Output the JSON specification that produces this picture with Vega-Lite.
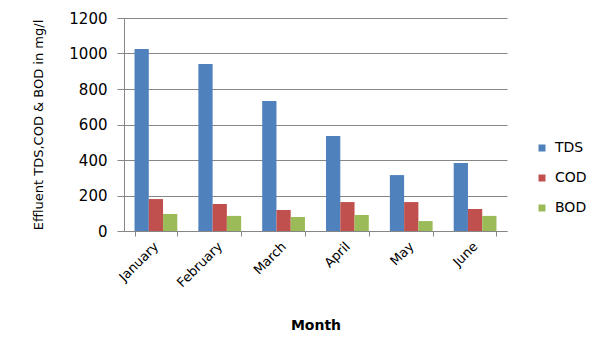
{
  "$schema": "https://vega.github.io/schema/vega-lite/v6.json",
  "width": 383,
  "height": 213,
  "autosize": "none",
  "padding": {"left": 124, "top": 18, "right": 102, "bottom": 121},
  "background": "white",
  "data": {
    "values": [
      {"month": "January", "param": "TDS", "value": 1025},
      {"month": "January", "param": "COD", "value": 180},
      {"month": "January", "param": "BOD", "value": 96},
      {"month": "February", "param": "TDS", "value": 941},
      {"month": "February", "param": "COD", "value": 152},
      {"month": "February", "param": "BOD", "value": 85},
      {"month": "March", "param": "TDS", "value": 732},
      {"month": "March", "param": "COD", "value": 118},
      {"month": "March", "param": "BOD", "value": 79},
      {"month": "April", "param": "TDS", "value": 535},
      {"month": "April", "param": "COD", "value": 163},
      {"month": "April", "param": "BOD", "value": 90},
      {"month": "May", "param": "TDS", "value": 315},
      {"month": "May", "param": "COD", "value": 163},
      {"month": "May", "param": "BOD", "value": 56},
      {"month": "June", "param": "TDS", "value": 383},
      {"month": "June", "param": "COD", "value": 124},
      {"month": "June", "param": "BOD", "value": 85}
    ]
  },
  "mark": {"type": "bar"},
  "encoding": {
    "x": {
      "field": "month",
      "type": "nominal",
      "sort": ["January", "February", "March", "April", "May", "June"],
      "scale": {"paddingInner": 0.33, "paddingOuter": 0.165},
      "axis": {
        "title": "Month",
        "titleFont": "DejaVu Sans",
        "titleFontSize": 14,
        "titleFontWeight": "bold",
        "titleColor": "black",
        "titlePadding": 29,
        "labelAngle": -45,
        "labelAlign": "right",
        "labelBaseline": "middle",
        "labelFont": "DejaVu Sans",
        "labelFontSize": 13,
        "labelColor": "black",
        "labelPadding": 8,
        "tickBand": "extent",
        "tickSize": 5,
        "tickColor": "#868686",
        "domainColor": "#868686",
        "grid": false
      }
    },
    "xOffset": {
      "field": "param",
      "type": "nominal",
      "sort": ["TDS", "COD", "BOD"],
      "scale": {"paddingInner": 0, "paddingOuter": 0}
    },
    "y": {
      "field": "value",
      "type": "quantitative",
      "scale": {"domain": [0, 1200]},
      "axis": {
        "title": "Effluent TDS,COD & BOD in mg/l",
        "titleFont": "DejaVu Sans",
        "titleFontSize": 13,
        "titleFontWeight": "normal",
        "titleColor": "black",
        "titlePadding": 23,
        "values": [0, 200, 400, 600, 800, 1000, 1200],
        "format": "d",
        "labelFont": "DejaVu Sans",
        "labelFontSize": 15,
        "labelColor": "black",
        "labelPadding": 10,
        "tickSize": 7,
        "tickColor": "#868686",
        "domainColor": "#868686",
        "gridColor": "#868686",
        "gridWidth": 1
      }
    },
    "color": {
      "field": "param",
      "type": "nominal",
      "sort": ["TDS", "COD", "BOD"],
      "scale": {"domain": ["TDS", "COD", "BOD"], "range": ["#4F81BD", "#C0504D", "#9BBB59"]},
      "legend": {
        "title": null,
        "orient": "none",
        "legendX": 411,
        "legendY": 123,
        "symbolType": "square",
        "symbolSize": 49,
        "symbolStrokeWidth": 0,
        "rowPadding": 16,
        "labelFont": "DejaVu Sans",
        "labelFontSize": 14,
        "labelColor": "black",
        "labelOffset": 6
      }
    }
  },
  "config": {
    "view": {"stroke": null}
  }
}
